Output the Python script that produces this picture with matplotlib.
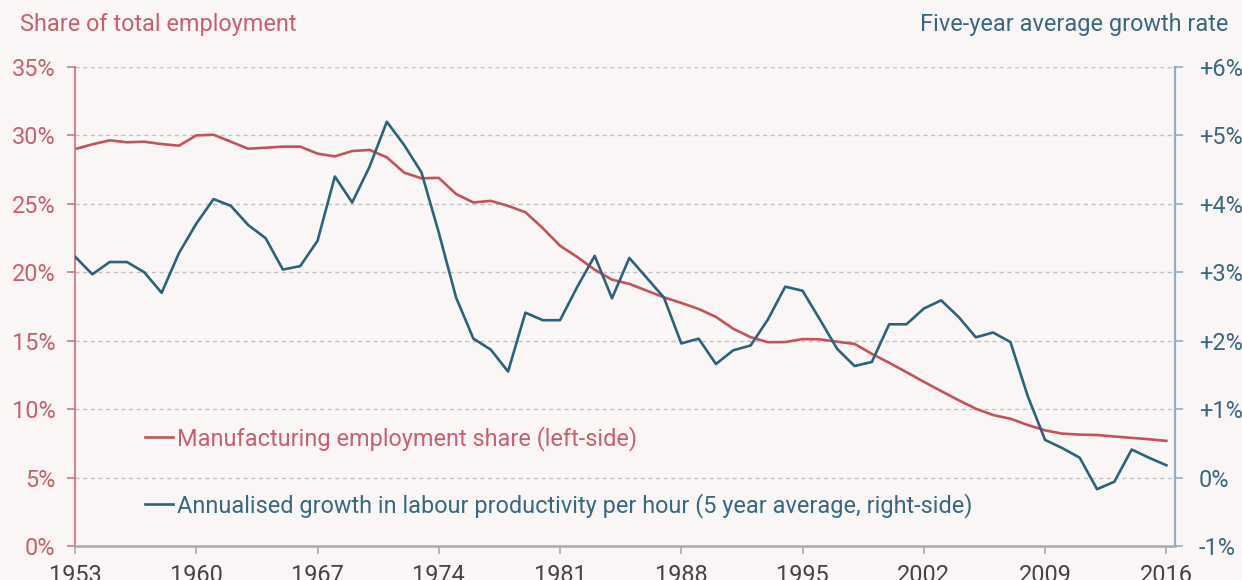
import matplotlib
matplotlib.use("Agg")
import matplotlib.pyplot as plt

years = list(range(1953, 2017))
manuf_share = [29.0, 29.35, 29.64, 29.5, 29.54, 29.37, 29.25, 30.0, 30.05, 29.54,
               29.03, 29.1, 29.18, 29.18, 28.67, 28.47, 28.86, 28.94, 28.4, 27.28,
               26.87, 26.9, 25.72, 25.1, 25.22, 24.85, 24.39, 23.23, 21.94, 21.11,
               20.19, 19.46, 19.15, 18.66, 18.17, 17.76, 17.32, 16.74, 15.87, 15.26,
               14.89, 14.9, 15.12, 15.1, 14.92, 14.77, 14.04, 13.39, 12.7, 12.0,
               11.32, 10.66, 10.03, 9.57, 9.3, 8.84, 8.45, 8.21, 8.14, 8.11,
               8.0, 7.9, 7.8, 7.68]
productivity = [3.23, 2.97, 3.15, 3.15, 3.0, 2.70, 3.28, 3.71, 4.07, 3.97,
                3.69, 3.50, 3.04, 3.09, 3.46, 4.40, 4.02, 4.54, 5.20, 4.86,
                4.46, 3.58, 2.63, 2.03, 1.87, 1.55, 2.41, 2.30, 2.30, 2.79,
                3.24, 2.62, 3.21, 2.92, 2.63, 1.96, 2.03, 1.66, 1.86, 1.93,
                2.31, 2.79, 2.73, 2.31, 1.88, 1.63, 1.69, 2.24, 2.24, 2.47,
                2.59, 2.35, 2.05, 2.12, 1.98, 1.19, 0.55, 0.43, 0.29, -0.17,
                -0.06, 0.41, 0.29, 0.18]
x_ticks = [1953, 1960, 1967, 1974, 1981, 1988, 1995, 2002, 2009, 2016]
left_ticks = [0, 5, 10, 15, 20, 25, 30, 35]
left_labels = ["0%", "5%", "10%", "15%", "20%", "25%", "30%", "35%"]
right_ticks = [-1, 0, 1, 2, 3, 4, 5, 6]
right_labels = ["-1%", "0%", "+1%", "+2%", "+3%", "+4%", "+5%", "+6%"]

label_red = "Manufacturing employment share (left-side)"
label_blue = "Annualised growth in labour productivity per hour (5 year average, right-side)"
title_left = "Share of total employment"
title_right = "Five-year average growth rate"

BG = "#faf6f5"
RED = "#c4525c"
RED_TXT = "#c9616b"
RED_SPINE = "#cd7880"
BLUE = "#2b637a"
BLUE_TXT = "#3a6880"
BLUE_SPINE = "#8fb0c1"
GRAY = "#aaaaaa"
FS = 16.9

plt.rcParams['font.family'] = ['Roboto', 'DejaVu Sans']

fig = plt.figure(figsize=(12.42, 5.8), dpi=100, facecolor=BG)
ax = fig.add_axes([75/1242, 1-546/580, 1100/1242, (546-67)/580])
ax.set_facecolor(BG)
ax2 = ax.twinx()

l1, = ax.plot(years, manuf_share, color=RED, lw=1.9, solid_joinstyle='round')
l2, = ax2.plot(years, productivity, color=BLUE, lw=1.9, solid_joinstyle='round')

ax.set_xlim(1953, 2016.5)
ax.set_ylim(0, 35)
ax2.set_ylim(-1, 6)

ax.set_yticks(left_ticks)
ax.set_yticklabels(left_labels)
ax2.set_yticks(right_ticks)
ax2.set_yticklabels(right_labels)
ax.set_xticks(x_ticks)
ax.set_xticklabels([str(t) for t in x_ticks])

for t in left_ticks[1:]:
    ax.axhline(t, color="#c2c2c2", lw=1.0, ls=(0, (3, 2.5)), zorder=0)

ax.spines["top"].set_visible(False)
ax2.spines["top"].set_visible(False)
ax.spines["right"].set_visible(False)
ax2.spines["left"].set_visible(False)
ax2.spines["bottom"].set_visible(False)
ax.spines["left"].set_color(RED_SPINE)
ax.spines["left"].set_linewidth(1.3)
ax2.spines["right"].set_color(BLUE_SPINE)
ax2.spines["right"].set_linewidth(1.6)
ax.spines["bottom"].set_color(GRAY)
ax.spines["bottom"].set_linewidth(1.8)

ax.tick_params(axis='y', colors=RED_SPINE, labelcolor=RED_TXT, labelsize=FS,
               length=6, width=1.2, pad=8)
ax2.tick_params(axis='y', colors=BLUE_SPINE, labelcolor=BLUE_TXT, labelsize=FS,
                length=6, width=1.2, pad=11)
ax.tick_params(axis='x', colors=GRAY, labelcolor="#444444", labelsize=FS,
               length=6, width=1.2, pad=7)

fig.text(20/1242, 1-25/580, title_left, color=RED_TXT, fontsize=FS,
         ha='left', va='center')
fig.text(1228/1242, 1-25/580, title_right, color=BLUE_TXT, fontsize=FS,
         ha='right', va='center')

leg = ax2.legend([l1, l2], [label_red, label_blue], loc='upper left',
                 bbox_to_anchor=((145-75)/1100, (546-426)/479), frameon=False,
                 fontsize=FS, handlelength=1.2, handletextpad=0.17,
                 labelspacing=1.8, borderpad=0, borderaxespad=0,
                 labelcolor=[RED_TXT, BLUE_TXT])

fig.savefig("out.png", dpi=100, facecolor=BG)
